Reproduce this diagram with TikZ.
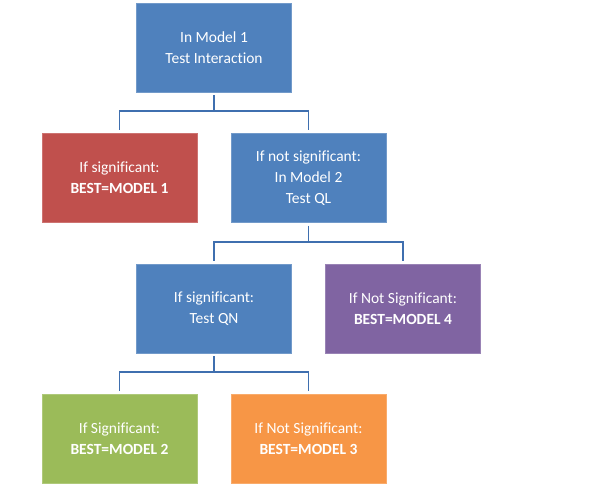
\documentclass[tikz,border=0pt]{standalone}
\usepackage{fontspec}
\setmainfont[Ligatures=NoCommon]{Carlito}
\usepackage{xcolor}
\usepackage{tikz}
\definecolor{boxblue}{HTML}{4F81BD}
\definecolor{boxred}{HTML}{C0504D}
\definecolor{boxgreen}{HTML}{9BBB59}
\definecolor{boxorange}{HTML}{F79646}
\definecolor{boxpurple}{HTML}{8064A2}
\definecolor{linkblue}{HTML}{3F6FAF}

\begin{document}
\begin{tikzpicture}[x=1pt,y=1pt,
    box/.style={minimum width=155pt,minimum height=89pt,inner sep=2pt,align=center,
      text=white,font=\fontsize{15.5}{21}\selectfont,draw=#1!80!white,fill=#1,line width=0.6pt},
    link/.style={draw=linkblue,line width=1.8pt,shorten <=3pt,shorten >=3pt}]
                \def\dx{94.5} % half step between columns
                \def\dy{130.5} % step between rows
                \def\drop{19} % length of the stem below a box
                \useasboundingbox (0,0) rectangle (616,-486);
                % Boxes, row by row
                \node[box=boxblue] (model1) at (214,-47.5) {In Model 1\\Test Interaction};
                \node[box=boxred] (best1) at (214-\dx,-47.5-\dy) {If significant:\\\textbf{BEST=MODEL 1}};
                \node[box=boxblue] (model2) at (214+\dx,-47.5-\dy) {If not significant:\\In Model 2\\Test QL};
                \node[box=boxblue] (testqn) at (214,-47.5-2*\dy) {If significant:\\Test QN};
                \node[box=boxpurple] (best4) at (214+2*\dx,-47.5-2*\dy) {If Not Significant:\\\textbf{BEST=MODEL 4}};
                \node[box=boxgreen] (best2) at (214-\dx,-47.5-3*\dy) {If Significant:\\\textbf{BEST=MODEL 2}};
                \node[box=boxorange] (best3) at (214+\dx,-47.5-3*\dy) {If Not Significant:\\\textbf{BEST=MODEL 3}};
                % Elbow connectors from each parent to its two children
                \draw[link] (model1.south) -- ++(0,-\drop) -| (best1.north);
                \draw[link] (model1.south) -- ++(0,-\drop) -| (model2.north);
                \draw[link] (model2.south) -- ++(0,-\drop) -| (testqn.north);
                \draw[link] (model2.south) -- ++(0,-\drop) -| (best4.north);
                \draw[link] (testqn.south) -- ++(0,-\drop) -| (best2.north);
                \draw[link] (testqn.south) -- ++(0,-\drop) -| (best3.north);
            \end{tikzpicture}
\end{document}
